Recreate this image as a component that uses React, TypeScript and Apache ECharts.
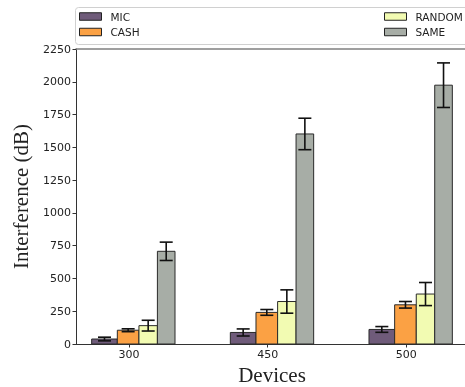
import React, { useEffect, useRef } from "react";
import * as echarts from "echarts";

const categories = ["300", "450", "500"];
const seriesNames = ["MIC", "CASH", "RANDOM", "SAME"];
const micMean = [38, 88, 111];
const micErr = [14, 27, 22];
const cashMean = [105, 241, 299];
const cashErr = [11, 22, 25];
const randomMean = [140, 324, 381];
const randomErr = [41, 89, 88];
const sameMean = [707, 1602, 1974];
const sameErr = [70, 120, 170];
const yTicks = [0, 250, 500, 750, 1000, 1250, 1500, 1750, 2000, 2250];

const means = [micMean, cashMean, randomMean, sameMean];
const errs = [micErr, cashErr, randomErr, sameErr];
const colors = ["#6f5b7a", "#fba144", "#f2fbb2", "#a7ada6"];
// bar edges relative to the category position (in axis units)
const EDGES = [
  [-0.269, -0.084],
  [-0.084, 0.072],
  [0.072, 0.205],
  [0.205, 0.332],
];
const CAP = 6.5;

export default function App() {
  const ref = useRef<HTMLDivElement>(null);
  useEffect(() => {
    if (!ref.current) return;
    const chart = echarts.init(ref.current, undefined, { renderer: "svg" });
    const series = seriesNames.map((name, k) => ({
      name,
      type: "custom",
      itemStyle: { color: colors[k], borderColor: "#222", borderWidth: 1 },
      encode: { x: 0, y: 1 },
      data: categories.map((_, i) => [i, means[k][i], errs[k][i]]),
      renderItem: (params: any, api: any) => {
        const x = api.value(0);
        const v = api.value(1);
        const e = api.value(2);
        const p0 = api.coord([x + EDGES[k][0], 0]);
        const p1 = api.coord([x + EDGES[k][1], v]);
        const cx = api.coord([x + (EDGES[k][0] + EDGES[k][1]) / 2, v])[0];
        const yT = api.coord([x, v + e])[1];
        const yB = api.coord([x, v - e])[1];
        const ls = { stroke: "#111", lineWidth: 1.6 };
        return {
          type: "group",
          children: [
            {
              type: "rect",
              shape: { x: p0[0], y: p1[1], width: p1[0] - p0[0], height: p0[1] - p1[1] },
              style: { fill: colors[k], stroke: "#2a2a2a", lineWidth: 1 },
            },
            { type: "line", shape: { x1: cx, y1: yT, x2: cx, y2: yB }, style: ls },
            { type: "line", shape: { x1: cx - CAP, y1: yT, x2: cx + CAP, y2: yT }, style: ls },
            { type: "line", shape: { x1: cx - CAP, y1: yB, x2: cx + CAP, y2: yB }, style: ls },
          ],
        };
      },
    }));
    const legendCommon = {
      orient: "vertical",
      top: 11,
      padding: 0,
      itemWidth: 22,
      itemHeight: 7.5,
      itemGap: 4.5,
      icon: "rect",
      itemStyle: { borderColor: "#222", borderWidth: 1 },
      textStyle: { fontFamily: "DejaVu Sans", fontSize: 10.5, color: "#222", padding: [0, 0, 0, 4] },
      selectedMode: false,
    };
    chart.setOption({
      animation: false,
      graphic: [
        {
          type: "rect",
          z: -1,
          shape: { x: 75.5, y: 7.5, width: 420, height: 37, r: 3 },
          style: { fill: "#fff", stroke: "#d0d0d0", lineWidth: 1 },
        },
      ],
      legend: [
        { ...legendCommon, left: 79, data: ["MIC", "CASH"] },
        { ...legendCommon, left: 384, data: ["RANDOM", "SAME"] },
      ],
      grid: { left: 76, top: 49, width: 392, height: 295, outerBoundsMode: "none", containLabel: false },
      xAxis: [
        {
          type: "value",
          min: -0.382,
          max: 2.445,
          name: "Devices",
          nameLocation: "middle",
          nameGap: 17,
          nameTextStyle: { fontFamily: "Liberation Serif", fontSize: 21, color: "#222" },
          axisLine: { show: true, onZero: false, lineStyle: { color: "#333", width: 1 } },
          axisTick: { show: true, length: 3.5, customValues: [0, 1, 2], lineStyle: { color: "#333" } },
          axisLabel: {
            customValues: [0, 1, 2],
            formatter: (v: number) => categories[Math.round(v)] ?? "",
            fontFamily: "DejaVu Sans",
            fontSize: 11,
            color: "#222",
            margin: 5,
          },
          splitLine: { show: false },
        },
        {
          type: "value",
          position: "top",
          min: -0.382,
          max: 2.445,
          axisLine: { show: true, onZero: false, lineStyle: { color: "#808080", width: 1.5 } },
          axisTick: { show: false },
          axisLabel: { show: false },
          splitLine: { show: false },
        },
      ],
      yAxis: {
        type: "value",
        min: 0,
        max: 2250,
        interval: 250,
        name: "Interference (dB)",
        nameLocation: "middle",
        nameGap: 45,
        nameTextStyle: { fontFamily: "Liberation Serif", fontSize: 21, color: "#222" },
        axisLine: { show: true, onZero: false, lineStyle: { color: "#333", width: 1 } },
        axisTick: { show: true, length: 3.5, lineStyle: { color: "#333" } },
        axisLabel: {
          fontFamily: "DejaVu Sans",
          fontSize: 11,
          color: "#222",
          margin: 5,
          formatter: (v: number) => (yTicks.includes(v) ? String(v) : ""),
        },
        splitLine: { show: false },
      },
      series,
    });
    return () => chart.dispose();
  }, []);
  return <div ref={ref} style={{ position: "fixed", left: 0, top: 0, width: 465, height: 387 }} />;
}
